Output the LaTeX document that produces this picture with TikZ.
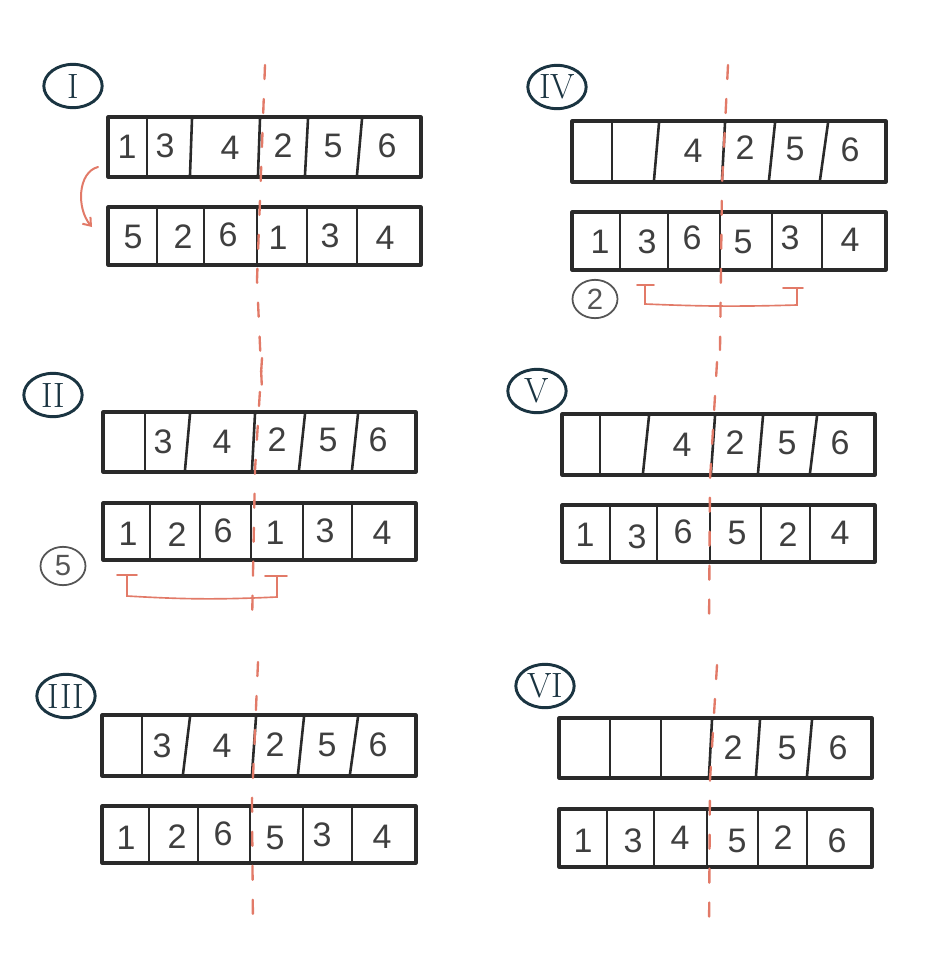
\documentclass[tikz,border=0pt]{standalone}
\usepackage{fontspec}
\setsansfont{Liberation Sans}
\usetikzlibrary{shapes.geometric,arrows.meta}

\definecolor{ink}{HTML}{2A2A2A}
\definecolor{cutred}{RGB}{226,122,104}
\definecolor{tagblue}{HTML}{1A3441}
\definecolor{notegray}{HTML}{555555}

\begin{document}
\begin{tikzpicture}[x=0.03cm, y=-0.03cm]
  \tikzstyle{rowbox} = [draw=ink, line width=2.6pt, line join=round]
  \tikzstyle{divider} = [draw=ink, line width=2.2pt]
  \tikzstyle{digit} = [text=ink!90, font=\sffamily\fontsize{29}{29}\selectfont, inner sep=0pt]
  \tikzstyle{tagmark} = [ellipse, draw=tagblue, text=tagblue, line width=2.5pt, minimum width=1.75cm, minimum height=1.3cm, inner sep=0pt, font=\fontsize{30}{30}\selectfont]
  \tikzstyle{notemark} = [ellipse, draw=notegray, text=notegray, line width=1.5pt, minimum width=1.35cm, minimum height=1.15cm, inner sep=0pt, font=\sffamily\fontsize{25}{25}\selectfont]
  \tikzstyle{cutline} = [draw=cutred, line width=2pt, dash pattern=on 12pt off 17pt, line cap=round]
  \tikzstyle{bracket} = [draw=cutred, line width=1.4pt, line cap=round]

  \fill[white] (0,0) rectangle (932,953);
  \useasboundingbox (0,0) rectangle (932,953);

  % panel I
  \node[tagmark] (tagI) at (73,86) {I};
  \draw[rowbox] (108,117) rectangle (421,177);
  \foreach \a/\b in {147/147, 192/190, 260/258, 308/305, 362/357}
    \draw[divider] (\a,119) -- (\b,175);
  \draw[rowbox] (108,207) rectangle (421,265);
  \foreach \a/\b in {157/157, 204/204, 257/257, 307/307, 357/357}
    \draw[divider] (\a,209) -- (\b,263);
  \foreach \x/\y/\d [count=\i] in {127/147/1, 165/146/3, 230/148/4, 283/146/2, 333/146/5, 387/146/6}
    \node[digit] (Ia\i) at (\x,\y) {\d};
  \foreach \x/\y/\d [count=\i] in {133/237/5, 183/237/2, 228/235/6, 278/238/1, 330/236/3, 385/238/4}
    \node[digit] (Ib\i) at (\x,\y) {\d};
  \coordinate (Ifrom) at (98,167);
  \coordinate (Ito) at (92,227);
  \draw[bracket, line width=1.7pt, -{Straight Barb[length=6pt, width=9pt]}] (Ifrom) .. controls (78,172) and (76,208) .. (Ito);
  \draw[cutline] (265,65) -- (257,280) -- (262,390);

  % panel II
  \node[tagmark] (tagII) at (53,395) {II};
  \draw[rowbox] (103,412) rectangle (416,472);
  \foreach \a/\b in {145/145, 190/185, 255/252, 305/299, 358/352}
    \draw[divider] (\a,414) -- (\b,470);
  \draw[rowbox] (103,503) rectangle (416,560);
  \foreach \a/\b in {150/150, 200/200, 251/251, 303/303, 352/352}
    \draw[divider] (\a,505) -- (\b,558);
  \foreach \x/\y/\d [count=\i] in {163/442/3, 222/442/4, 277/440/2, 328/440/5, 378/440/6}
    \node[digit] (IIa\i) at (\x,\y) {\d};
  \foreach \x/\y/\d [count=\i] in {128/534/1, 177/535/2, 223/531/6, 275/533/1, 325/531/3, 382/533/4}
    \node[digit] (IIb\i) at (\x,\y) {\d};
  \node[notemark] (noteII) at (63,566) {5};
  \coordinate (IIl) at (127,575);
  \coordinate (IIr) at (277,576);
  \draw[bracket] (117,575) -- (137,575);
  \draw[bracket] (265,576) -- (287,576);
  \draw[bracket] (IIl) -- (127,596) to[bend right=3] (277,597) -- (IIr);
  \draw[cutline] (262,358) -- (255,470) -- (252,625);

  % panel III
  \node[tagmark] (tagIII) at (66,696) {III};
  \draw[rowbox] (102,715) rectangle (416,776);
  \foreach \a/\b in {142/142, 190/183, 256/252, 304/298, 358/350}
    \draw[divider] (\a,717) -- (\b,774);
  \draw[rowbox] (102,806) rectangle (416,863);
  \foreach \a/\b in {149/149, 198/198, 250/250, 303/303, 352/352}
    \draw[divider] (\a,808) -- (\b,861);
  \foreach \x/\y/\d [count=\i] in {162/746/3, 222/746/4, 275/745/2, 327/745/5, 378/745/6}
    \node[digit] (IIIa\i) at (\x,\y) {\d};
  \foreach \x/\y/\d [count=\i] in {126/838/1, 177/837/2, 223/834/6, 275/838/5, 322/835/3, 382/837/4}
    \node[digit] (IIIb\i) at (\x,\y) {\d};
  \draw[cutline] (258,662) -- (252,800) -- (253,930);

  % panel IV
  \node[tagmark] (tagIV) at (557,87) {IV};
  \draw[rowbox] (572,121) rectangle (886,182);
  \foreach \a/\b in {612/612, 659/654, 725/722, 775/769, 828/820}
    \draw[divider] (\a,123) -- (\b,180);
  \draw[rowbox] (572,212) rectangle (886,270);
  \foreach \a/\b in {620/620, 668/668, 720/720, 772/772, 822/822}
    \draw[divider] (\a,214) -- (\b,268);
  \foreach \x/\y/\d [count=\i] in {693/151/4, 745/148/2, 795/149/5, 850/150/6}
    \node[digit] (IVa\i) at (\x,\y) {\d};
  \foreach \x/\y/\d [count=\i] in {600/242/1, 647/242/3, 692/238/6, 743/242/5, 790/238/3, 850/240/4}
    \node[digit] (IVb\i) at (\x,\y) {\d};
  \node[notemark] (noteIV) at (595,299) {2};
  \coordinate (IVl) at (645,285);
  \coordinate (IVr) at (797,288);
  \draw[bracket] (637,285) -- (654,285);
  \draw[bracket] (783,288) -- (803,288);
  \draw[bracket] (IVl) -- (645,304) to[bend right=2] (797,305) -- (IVr);
  \draw[cutline] (728,65) -- (722,185) -- (720,350);

  % panel V
  \node[tagmark] (tagV) at (537,391) {V};
  \draw[rowbox] (562,414) rectangle (875,475);
  \foreach \a/\b in {600/600, 649/643, 715/711, 763/758, 817/810}
    \draw[divider] (\a,416) -- (\b,473);
  \draw[rowbox] (562,505) rectangle (875,562);
  \foreach \a/\b in {610/610, 657/657, 710/710, 761/761, 810/810}
    \draw[divider] (\a,507) -- (\b,560);
  \foreach \x/\y/\d [count=\i] in {682/445/4, 735/443/2, 787/443/5, 840/443/6}
    \node[digit] (Va\i) at (\x,\y) {\d};
  \foreach \x/\y/\d [count=\i] in {585/535/1, 637/537/3, 683/532/6, 737/533/5, 788/535/2, 840/533/4}
    \node[digit] (Vb\i) at (\x,\y) {\d};
  \draw[cutline] (717,362) -- (710,480) -- (709,630);

  % panel VI
  \node[tagmark] (tagVI) at (545,686) {VI};
  \draw[rowbox] (559,718) rectangle (872,778);
  \foreach \a/\b in {610/610, 661/661, 712/709, 760/756, 812/807}
    \draw[divider] (\a,720) -- (\b,776);
  \draw[rowbox] (559,809) rectangle (872,867);
  \foreach \a/\b in {607/607, 654/654, 707/707, 758/758, 807/807}
    \draw[divider] (\a,811) -- (\b,865);
  \foreach \x/\y/\d [count=\i] in {733/748/2, 787/748/5, 838/748/6}
    \node[digit] (VIa\i) at (\x,\y) {\d};
  \foreach \x/\y/\d [count=\i] in {583/841/1, 633/841/3, 680/838/4, 737/841/5, 783/838/2, 837/841/6}
    \node[digit] (VIb\i) at (\x,\y) {\d};
  \draw[cutline] (717,665) -- (710,780) -- (709,935);
\end{tikzpicture}
\end{document}
